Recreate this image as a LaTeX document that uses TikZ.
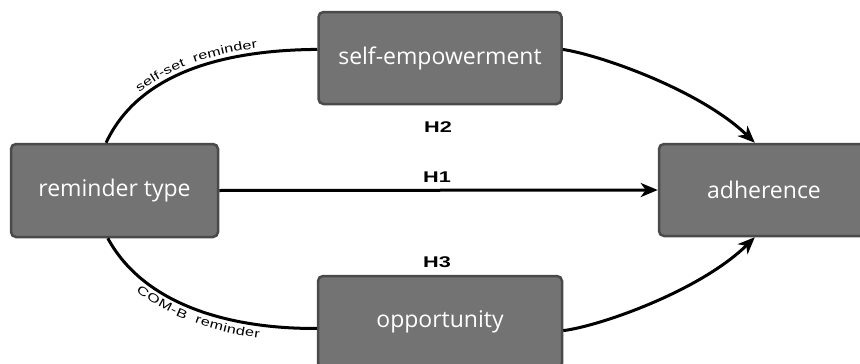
\documentclass[tikz,border=0pt]{standalone}
\usepackage{fontspec}
\setmainfont{Liberation Sans}
\newfontfamily\boxfont{Open Sans}
\newfontfamily\widefont[FakeStretch=1.35]{Liberation Sans}
\newfontfamily\hfont[FakeStretch=1.4]{Liberation Sans Bold}
\usetikzlibrary{arrows.meta,decorations.text}
\definecolor{boxfill}{HTML}{737373}
\definecolor{boxline}{HTML}{4A4A4A}
\tikzset{
  varbox/.style={draw=boxline, fill=boxfill, line width=2.5pt, rounded corners=5pt,
    text=white, font=\boxfont\fontsize{23}{26}\selectfont, inner sep=0pt},
  link/.style={line width=3pt, black},
  arr/.style={link, -{Stealth[length=17pt,width=14pt,inset=5pt]}},
  hlab/.style={font=\hfont\fontsize{15.5}{18}\selectfont, inner sep=0pt},
}
\newcommand{\lblfnt}{\widefont\fontsize{12}{14}\selectfont}
\begin{document}
\begin{tikzpicture}[x=1pt,y=-1pt]
\useasboundingbox (0,0) rectangle (860,364);
\clip (0,0) rectangle (860,364);
\node[varbox, minimum width=207pt, minimum height=93pt] (rt) at (114.5,190.5) {reminder type};
\node[varbox, minimum width=243pt, minimum height=92pt] (sem) at (440,58) {self-empowerment};
\node[varbox, minimum width=210pt, minimum height=92pt] (adh) at (764,190) {adherence};
\node[varbox, minimum width=244pt, minimum height=92pt] (opp) at (440,322) {opportunity};
\node[hlab] (h2) at (438,127) {H2};
\node[hlab] (h1) at (437,177) {H1};
\node[hlab] (h3) at (437,262) {H3};
\draw[link, postaction={decorate, decoration={text along path, text align=center, raise=5pt,
  text={|\lblfnt|self-set{ }{ }reminder}}}]
  (rt.100) .. controls (140,70) and (230,50) .. (sem.176);
\draw[link, postaction={decorate, decoration={text along path, text align=center, raise=-13pt,
  text={|\lblfnt|COM-B{ }{ }reminder}}}]
  (rt.262) .. controls (144,305) and (230,329) .. (opp.183);
\draw[arr] (sem.4) .. controls (600,55) and (700,90) .. (adh.101);
\draw[arr] (opp.356) .. controls (600,326) and (700,291) .. (adh.259);
\draw[arr] (rt.east) -- (adh.west);
\end{tikzpicture}
\end{document}
